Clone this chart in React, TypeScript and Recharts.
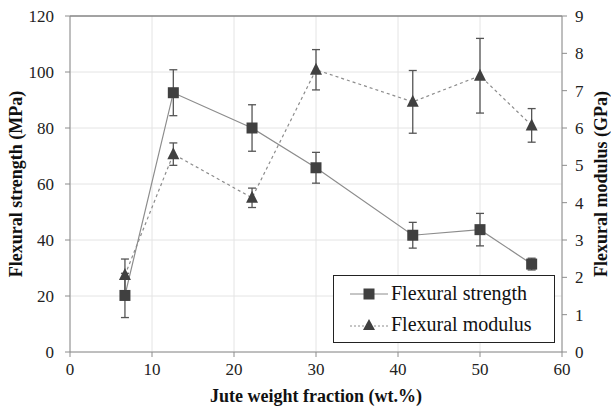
import React from 'react';
import {
  LineChart,
  Line,
  XAxis,
  YAxis,
  CartesianGrid,
  ErrorBar,
  ReferenceLine
} from 'recharts';

// jute weight fraction (wt.%)
const fractions = [6.7, 12.6, 22.2, 30, 41.8, 50, 56.3];
// flexural strength (MPa) and std dev
const strength = [20.2, 92.6, 80, 65.8, 41.7, 43.7, 31.4];
const strengthErr = [7.9, 8.2, 8.3, 5.5, 4.6, 5.8, 2.1];
// flexural modulus (GPa) and std dev
const modulus = [2.06, 5.3, 4.13, 7.56, 6.7, 7.4, 6.07];
const modulusErr = [0.43, 0.3, 0.26, 0.54, 0.84, 1.0, 0.45];

const xTicks = [0, 10, 20, 30, 40, 50, 60];
const leftTicks = [0, 20, 40, 60, 80, 100, 120];
const rightTicks = [0, 1, 2, 3, 4, 5, 6, 7, 8, 9];

const chartData = fractions.map((f, i) => ({
  fraction: f,
  strength: strength[i],
  strengthErr: strengthErr[i],
  modulus: modulus[i],
  modulusErr: modulusErr[i]
}));

const FONT = '"Liberation Serif", "Times New Roman", Times, serif';
const MARK = '#404040';
const LINE = '#8c8c8c';
const AXIS = '#8c8c8c';

const SquareDot = (props: any) => {
  const { cx, cy, index } = props;
  if (cx == null || cy == null) return null;
  return <rect key={`sq-${index}`} x={cx - 5.5} y={cy - 5.5} width={11} height={11} fill={MARK} />;
};

const TriangleDot = (props: any) => {
  const { cx, cy, index } = props;
  if (cx == null || cy == null) return null;
  return (
    <polygon
      key={`tri-${index}`}
      points={`${cx},${cy - 7} ${cx - 6},${cy + 5} ${cx + 6},${cy + 5}`}
      fill={MARK}
    />
  );
};

const LeftTitle = ({ viewBox }: any) => {
  const x = 16;
  const y = viewBox.y + viewBox.height / 2;
  return (
    <text x={x} y={y} transform={`rotate(-90 ${x} ${y})`} textAnchor="middle" dominantBaseline="central"
      fontFamily={FONT} fontWeight="bold" fontSize={18} fill="#111">
      Flexural strength (MPa)
    </text>
  );
};

const RightTitle = ({ viewBox }: any) => {
  const x = viewBox.x + viewBox.width - 10;
  const y = viewBox.y + viewBox.height / 2;
  return (
    <text x={x} y={y} transform={`rotate(-90 ${x} ${y})`} textAnchor="middle" dominantBaseline="central"
      fontFamily={FONT} fontWeight="bold" fontSize={18} fill="#111">
      Flexural modulus (GPa)
    </text>
  );
};

const BottomTitle = ({ viewBox }: any) => {
  const x = viewBox.x + viewBox.width / 2;
  const y = 396;
  return (
    <text x={x} y={y} textAnchor="middle" dominantBaseline="central"
      fontFamily={FONT} fontWeight="bold" fontSize={18} fill="#111">
      Jute weight fraction (wt.%)
    </text>
  );
};

const LegendBox = () => (
  <div
    style={{
      position: 'absolute',
      left: 333,
      top: 275,
      width: 222,
      height: 68,
      border: '1px solid #222',
      background: '#fff',
      fontFamily: FONT,
      fontSize: 20,
      color: '#111',
      boxSizing: 'border-box',
      paddingTop: 2
    }}
  >
    <div style={{ display: 'flex', alignItems: 'center', height: 31 }}>
      <svg width={56} height={20} style={{ marginLeft: 14 }}>
        <line x1={2} y1={10} x2={40} y2={10} stroke={LINE} strokeWidth={1} />
        <rect x={15.5} y={4.5} width={11} height={11} fill={MARK} />
      </svg>
      <span style={{ marginLeft: -13 }}>Flexural strength</span>
    </div>
    <div style={{ display: 'flex', alignItems: 'center', height: 31 }}>
      <svg width={56} height={20} style={{ marginLeft: 14 }}>
        <line x1={2} y1={11} x2={40} y2={11} stroke={LINE} strokeWidth={1} strokeDasharray="2 2" />
        <polygon points="21,4 15,15 27,15" fill={MARK} />
      </svg>
      <span style={{ marginLeft: -13 }}>Flexural modulus</span>
    </div>
  </div>
);

const App: React.FC = () => {
  const tickStyle = { fontFamily: FONT, fontSize: 17, fill: '#222' };
  return (
    <div style={{ position: 'relative', width: 611, height: 409, background: '#fff', fontFamily: FONT }}>
      <style>{'body{margin:0}'}</style>
      <LineChart
        width={611}
        height={409}
        data={chartData}
        margin={{ top: 16, right: 0, bottom: 0, left: 0 }}
        style={{ fontFamily: FONT }}
      >
        <CartesianGrid stroke="#e4e4e4" strokeWidth={1} yAxisId="left" />
        <XAxis
          dataKey="fraction"
          type="number"
          domain={[0, 60]}
          ticks={xTicks}
          height={57}
          stroke={AXIS}
          tickSize={5}
          tickMargin={6}
          tick={tickStyle}
          label={<BottomTitle />}
        />
        <YAxis
          yAxisId="left"
          domain={[0, 120]}
          ticks={leftTicks}
          width={70}
          stroke={AXIS}
          tickSize={5}
          tickMargin={11}
          tick={tickStyle}
          label={<LeftTitle />}
        />
        <YAxis
          yAxisId="right"
          orientation="right"
          domain={[0, 9]}
          ticks={rightTicks}
          width={49}
          stroke={AXIS}
          tickSize={5}
          tickMargin={8}
          tick={{ ...tickStyle, textAnchor: 'start' }}
          label={<RightTitle />}
        />
        <ReferenceLine yAxisId="left" y={120} stroke="#555" strokeWidth={1.2} />
        <Line
          yAxisId="left"
          dataKey="strength"
          type="linear"
          stroke={LINE}
          strokeWidth={1.2}
          dot={<SquareDot />}
          activeDot={false}
          isAnimationActive={false}
        >
          <ErrorBar dataKey="strengthErr" direction="y" width={4} stroke="#555" strokeWidth={1.3} />
        </Line>
        <Line
          yAxisId="right"
          dataKey="modulus"
          type="linear"
          stroke={LINE}
          strokeWidth={1.2}
          strokeDasharray="3 3"
          dot={<TriangleDot />}
          activeDot={false}
          isAnimationActive={false}
        >
          <ErrorBar dataKey="modulusErr" direction="y" width={4} stroke="#555" strokeWidth={1.3} />
        </Line>
      </LineChart>
      <LegendBox />
    </div>
  );
};

export default App;
